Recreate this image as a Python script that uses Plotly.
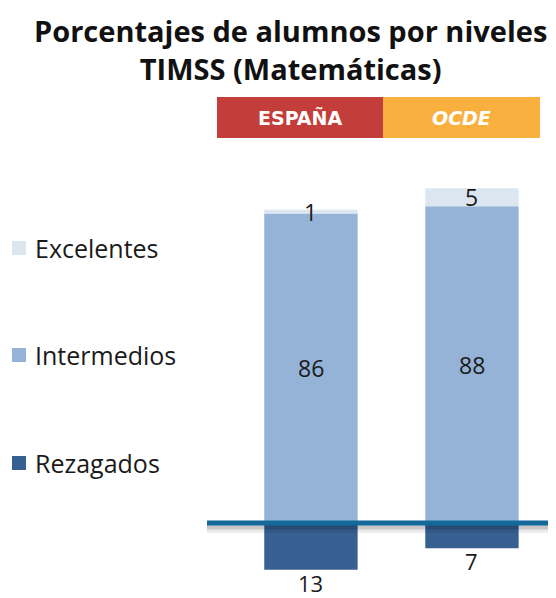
import plotly.graph_objects as go

# ---- data ----
paises = ["ESPAÑA", "OCDE"]
niveles = ["Excelentes", "Intermedios", "Rezagados"]
excelentes = [1, 5]
intermedios = [86, 88]
rezagados = [13, 7]

titulo = "Porcentajes de alumnos por niveles<br>TIMSS (Matemáticas)"

c_exc = "#DCE6F1"
c_int = "#95B3D7"
c_rez = "#366092"
c_line = "#13699A"
c_esp = "#C33E3A"
c_ocde = "#F9B03E"

OFF = 8  # page body margin
W, H = 556 - OFF, 598 - OFF
# plot area in reference pixel coordinates
PX0, PX1, PY0, PY1 = 205, 556, 163, 595
L, R, T, B = PX0 - OFF, 556 - PX1, PY0 - OFF, 598 - PY1
PW, PH = PX1 - PX0, PY1 - PY0


def px(xpix):
    return (xpix - PX0) / PW


def py(ypix):
    return (PY1 - ypix) / PH


FONT = "Open Sans, Lato, sans-serif"

xpos = [0, 1]
fig = go.Figure()
fig.add_trace(go.Bar(x=xpos, y=[-v for v in rezagados], name=niveles[2],
                     marker=dict(color=c_rez, line=dict(width=0)), width=0.58))
fig.add_trace(go.Bar(x=xpos, y=intermedios, name=niveles[1],
                     marker=dict(color=c_int, line=dict(width=0)), width=0.58))
fig.add_trace(go.Bar(x=xpos, y=excelentes, name=niveles[0],
                     marker=dict(color=c_exc, line=dict(width=0)), width=0.58))

font_lbl = dict(family=FONT, size=23, color="#1a1a1a")
font_low = dict(family=FONT, size=22, color="#1a1a1a")
ann = []
for i, x in enumerate(xpos):
    ann.append(dict(x=x, y=intermedios[i] / 2, text=str(intermedios[i]), showarrow=False,
                    xref="x", yref="y", xanchor="center", font=font_lbl))
    ann.append(dict(x=x, y=intermedios[i] + excelentes[i] / 2, text=str(excelentes[i]),
                    showarrow=False, xref="x", yref="y", xanchor="center", font=font_lbl))
    ann.append(dict(x=x, y=-rezagados[i], text=str(rezagados[i]), showarrow=False,
                    xref="x", yref="y", xanchor="center", yanchor="top", yshift=4,
                    font=font_low))

# title
ann.append(dict(x=px(290), y=py(49), xref="paper", yref="paper",
                text="<b>" + titulo.replace("<br>", "</b><br><b>") + "</b>",
                showarrow=False, align="center",
                font=dict(family=FONT, size=29, color="#111111"),
                xanchor="center", yanchor="middle"))

# header boxes
shapes = []
hdr = [(217, 383, c_esp, False), (383, 540, c_ocde, True)]
for (x0, x1, col, _) in hdr:
    shapes.append(dict(type="rect", xref="paper", yref="paper", x0=px(x0), x1=px(x1),
                       y0=py(138), y1=py(97), fillcolor=col, line=dict(width=0), layer="above"))
for i, (x0, x1, col, ital) in enumerate(hdr):
    t = paises[i]
    txt = "<b><i>" + t + "</i></b>" if ital else "<b>" + t + "</b>"
    ann.append(dict(x=px((x0 + x1) / 2), y=py(118), xref="paper", yref="paper", text=txt,
                    showarrow=False, xanchor="center", yanchor="middle",
                    font=dict(family="DejaVu Sans, sans-serif", size=19, color="white")))

# zero line with soft shadow
for dy, a, w in [(-1.6, 0.08, 8), (-1.0, 0.15, 6)]:
    shapes.append(dict(type="line", xref="paper", yref="y", x0=px(207), x1=1, y0=dy, y1=dy,
                       line=dict(color="rgba(0,0,0,%s)" % a, width=w), layer="above"))
shapes.append(dict(type="line", xref="paper", yref="y", x0=px(207), x1=1, y0=0, y1=0,
                   line=dict(color=c_line, width=5), layer="above"))

# legend (manual)
leg_y = [248, 355, 463]
leg_col = [c_exc, c_int, c_rez]
for name, yy, col in zip(niveles, leg_y, leg_col):
    shapes.append(dict(type="rect", xref="paper", yref="paper", x0=px(12), x1=px(26),
                       y0=py(yy + 7), y1=py(yy - 7), fillcolor=col, line=dict(width=0)))
    ann.append(dict(x=px(33), y=py(yy), xref="paper", yref="paper", text=name,
                    showarrow=False, xanchor="left", yanchor="middle",
                    font=dict(family=FONT, size=25, color="#1a1a1a")))

fig.update_layout(
    width=W, height=H,
    margin=dict(l=L, r=R, t=T, b=B, pad=0),
    barmode="relative",
    showlegend=False,
    paper_bgcolor="white", plot_bgcolor="white",
    xaxis=dict(range=[-0.658, 1.522], visible=False, fixedrange=True),
    yaxis=dict(range=[-20, 100], visible=False, fixedrange=True),
    annotations=ann, shapes=shapes,
)

fig.write_html("out.html")
